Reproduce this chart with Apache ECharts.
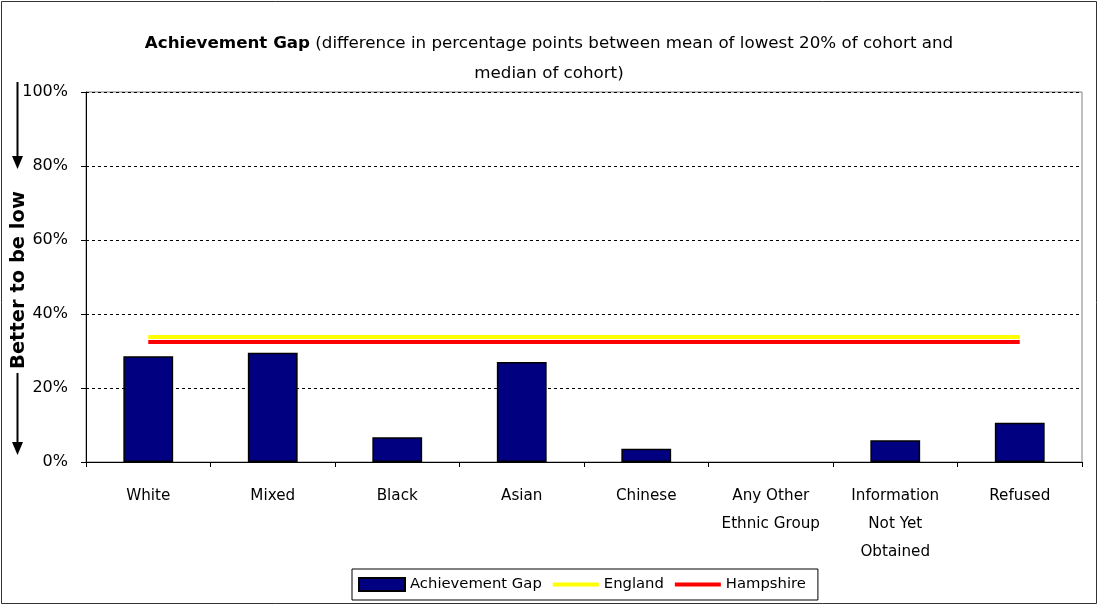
<!DOCTYPE html>
<html>
<head>
<meta charset="utf-8">
<script src="https://cdn.jsdelivr.net/npm/echarts@6/dist/echarts.min.js"></script>
<style>
html,body{margin:0;padding:0;background:#fff;}
#chart{width:1098px;height:605px;}
</style>
</head>
<body>
<div id="chart"></div>
<script>
var categories = ['White', 'Mixed', 'Black', 'Asian', 'Chinese', 'Any Other\nEthnic Group', 'Information\nNot Yet\nObtained', 'Refused'];
var achievementGap = [28.6, 29.5, 6.7, 27.0, 3.6, null, 5.9, 10.6];
var england = [33.8, 33.8, 33.8, 33.8, 33.8, 33.8, 33.8, 33.8];
var hampshire = [32.4, 32.4, 32.4, 32.4, 32.4, 32.4, 32.4, 32.4];
var yTicks = [0, 20, 40, 60, 80, 100];

var FONT = 'DejaVu Sans';
var chart = echarts.init(document.getElementById('chart'), null, {renderer: 'canvas'});
var option = {
  animation: false,
  backgroundColor: '#ffffff',
  textStyle: {fontFamily: FONT, color: '#000'},
  title: [{
    text: '{b|Achievement Gap} (difference in percentage points between mean of lowest 20% of cohort and',
    left: 'center', top: 30,
    textStyle: {
      fontFamily: FONT, fontSize: 16.7, fontWeight: 'normal', color: '#000',
      rich: {b: {fontFamily: FONT, fontSize: 16.7, fontWeight: 'bold', color: '#000'}}
    }
  }, {
    text: 'median of cohort)',
    left: 'center', top: 60,
    textStyle: {fontFamily: FONT, fontSize: 16.7, fontWeight: 'normal', color: '#000'}
  }],
  grid: {
    left: 86, right: 16, top: 92, bottom: 143,
    show: true, borderColor: '#808080', borderWidth: 1, backgroundColor: 'transparent'
  },
  legend: {
    left: 352, top: 569,
    padding: [8, 12, 8, 6],
    borderColor: '#000', borderWidth: 1,
    itemWidth: 46, itemHeight: 13, itemGap: 11,
    textStyle: {fontFamily: FONT, fontSize: 14.8, color: '#000'},
    data: [
      {name: 'Achievement Gap', icon: 'rect'},
      {name: 'England', icon: 'path://M0,0L46,0L46,4L0,4Z'},
      {name: 'Hampshire', icon: 'path://M0,0L46,0L46,4L0,4Z'}
    ]
  },
  xAxis: {
    type: 'category',
    data: categories,
    boundaryGap: true,
    axisLine: {lineStyle: {color: '#000', width: 1}},
    axisTick: {show: true, alignWithLabel: false, length: 5, lineStyle: {color: '#000'}},
    axisLabel: {interval: 0, margin: 20, fontFamily: FONT, fontSize: 15.2, color: '#000', lineHeight: 28},
    splitLine: {show: false}
  },
  yAxis: {
    type: 'value',
    min: yTicks[0], max: yTicks[yTicks.length - 1], interval: 20,
    axisLine: {show: true, lineStyle: {color: '#000', width: 1}},
    axisTick: {show: true, length: 5, lineStyle: {color: '#000'}},
    axisLabel: {formatter: '{value}%', margin: 18, fontFamily: FONT, fontSize: 16, color: '#000'},
    splitLine: {show: true, lineStyle: {color: '#000', type: [3, 3], width: 1}}
  },
  series: [{
    name: 'Achievement Gap',
    type: 'bar',
    data: achievementGap,
    barWidth: '40%',
    itemStyle: {color: '#000080', borderColor: '#000', borderWidth: 1.5},
    z: 2
  }, {
    name: 'England',
    type: 'line',
    data: england,
    symbol: 'none',
    lineStyle: {color: '#FFFF00', width: 4},
    itemStyle: {color: '#FFFF00'},
    z: 3
  }, {
    name: 'Hampshire',
    type: 'line',
    data: hampshire,
    symbol: 'none',
    lineStyle: {color: '#FF0000', width: 4},
    itemStyle: {color: '#FF0000'},
    z: 4
  }],
  graphic: [
    {type: 'rect', shape: {x: 1.5, y: 1.5, width: 1095, height: 602}, style: {fill: 'none', stroke: '#333', lineWidth: 1}, silent: true},
    {type: 'line', shape: {x1: 17.5, y1: 82, x2: 17.5, y2: 158}, style: {stroke: '#000', lineWidth: 2}, silent: true},
    {type: 'polygon', shape: {points: [[12, 156], [23, 156], [17.5, 169]]}, style: {fill: '#000'}, silent: true},
    {type: 'text', x: 19, y: 280, rotation: Math.PI / 2,
      style: {text: 'Better to be low', fontFamily: FONT, fontSize: 19.5, fontWeight: 'bold', fill: '#000', align: 'center', verticalAlign: 'middle'}, silent: true},
    {type: 'line', shape: {x1: 17.5, y1: 373, x2: 17.5, y2: 444}, style: {stroke: '#000', lineWidth: 2}, silent: true},
    {type: 'polygon', shape: {points: [[12, 442], [23, 442], [17.5, 455]]}, style: {fill: '#000'}, silent: true}
  ]
};
chart.setOption(option);
</script>
</body>
</html>
